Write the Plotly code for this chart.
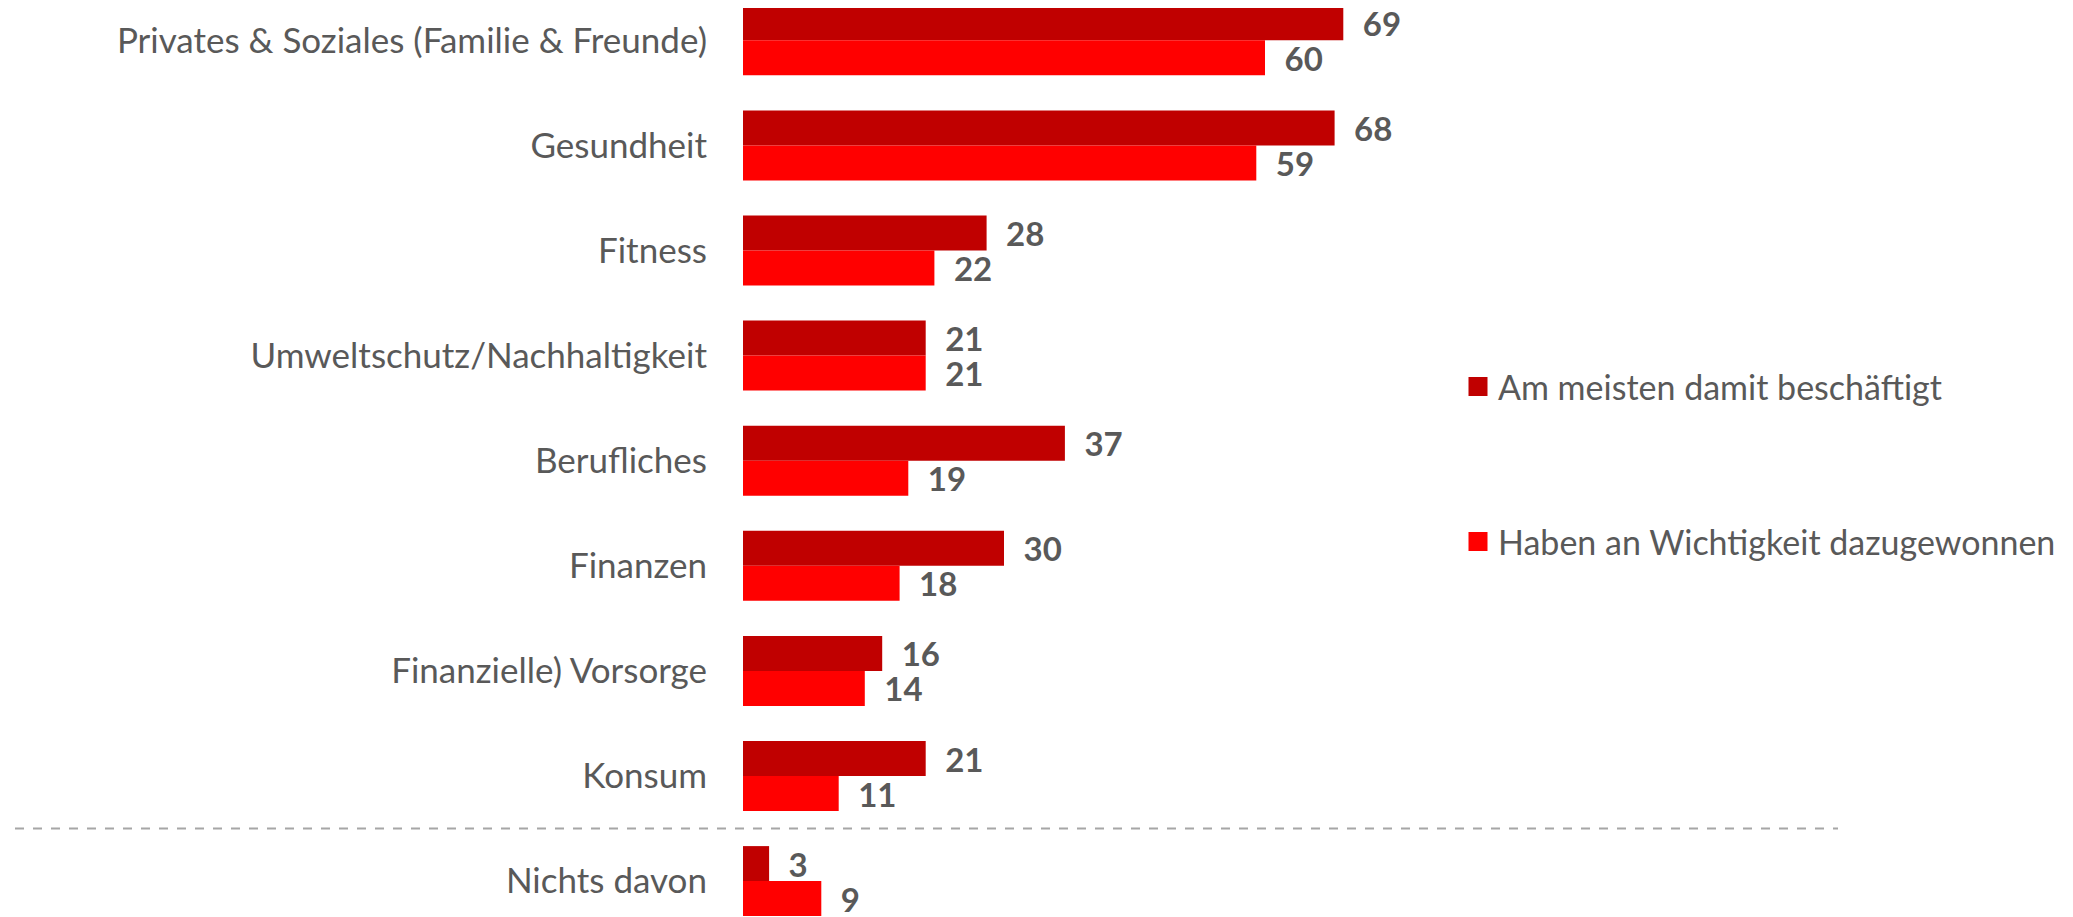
import plotly.graph_objects as go

categories = [
    "Privates & Soziales (Familie & Freunde)",
    "Gesundheit",
    "Fitness",
    "Umweltschutz/Nachhaltigkeit",
    "Berufliches",
    "Finanzen",
    "Finanzielle) Vorsorge",
    "Konsum",
    "Nichts davon",
]
series_names = ["Am meisten damit beschäftigt", "Haben an Wichtigkeit dazugewonnen"]
am_meisten = [69, 68, 28, 21, 37, 30, 16, 21, 3]
wichtigkeit = [60, 59, 22, 21, 19, 18, 14, 11, 9]

colors = ["#C00000", "#FF0000"]
label_color = "#595959"
FONT = "Lato"

W, H = 2073, 917
OFF = 8  # page body margin of the html page
plot_left, plot_right = 743 - OFF, 1838 - OFF
px_per_unit = 8.70
x_max = (plot_right - plot_left) / px_per_unit
# category centres in pixels (figure coords, top=0)
first_c, spacing = 40.3 - OFF, 105.1
n = len(categories)
y_top = -first_c / spacing
y_bot = (n - 1) + (H - (first_c + spacing * (n - 1))) / spacing

fig = go.Figure()
series = [
    (series_names[0], am_meisten, colors[0], "legend"),
    (series_names[1], wichtigkeit, colors[1], "legend2"),
]
for name, vals, col, lg in series:
    fig.add_trace(go.Bar(
        name=name, y=categories, x=vals, orientation="h",
        marker=dict(color=col, line=dict(width=0)),
        text=vals, texttemplate="\u2002%{x}", textposition="outside",
        constraintext="none", cliponaxis=False,
        textfont=dict(family=FONT, size=33, color=label_color, weight="bold"),
        legendgroup=name, showlegend=False, hoverinfo="skip",
    ))
# legend keys (square swatches)
for name, vals, col, lg in series:
    fig.add_trace(go.Scatter(
        name=name, x=[None], y=[None], mode="markers",
        marker=dict(symbol="square", size=16, color=col, line=dict(color=col, width=3)),
        legendgroup=name, legend=lg, showlegend=True, hoverinfo="skip",
    ))

# dashed separator between "Konsum" and "Nichts davon"
sep_y = n - 1.5
sep_paper = (y_bot - sep_y) / (y_bot - y_top)
fig.add_shape(type="line", xref="paper", yref="paper",
              x0=(15 - OFF - plot_left) / (plot_right - plot_left), x1=1.0,
              y0=sep_paper, y1=sep_paper,
              line=dict(color="#A6A6A6", width=2, dash="dash"))

legend_common = dict(font=dict(family=FONT, size=34, color=label_color),
                     bgcolor="rgba(0,0,0,0)", xanchor="left", yanchor="middle",
                     itemclick=False, itemdoubleclick=False,
                     x=(1450 - plot_left) / (plot_right - plot_left))
fig.update_layout(
    width=W, height=H, showlegend=True,
    margin=dict(l=plot_left, r=W - plot_right, t=0, b=0),
    paper_bgcolor="white", plot_bgcolor="white",
    barmode="group", bargap=0.334, bargroupgap=0,
    font=dict(family=FONT, color=label_color),
    xaxis=dict(range=[0, x_max], showgrid=False, zeroline=False, showticklabels=False,
               showline=False),
    yaxis=dict(type="category", categoryorder="array", categoryarray=categories,
               range=[y_bot, y_top], showgrid=False, zeroline=False,
               showline=False, ticks="", ticklabelstandoff=35,
               tickfont=dict(family=FONT, size=35, color=label_color)),
    legend=dict(**legend_common, y=1 - (387 - OFF) / H),
    legend2=dict(**legend_common, y=1 - (542 - OFF) / H),
)

fig.write_html("out.html")
